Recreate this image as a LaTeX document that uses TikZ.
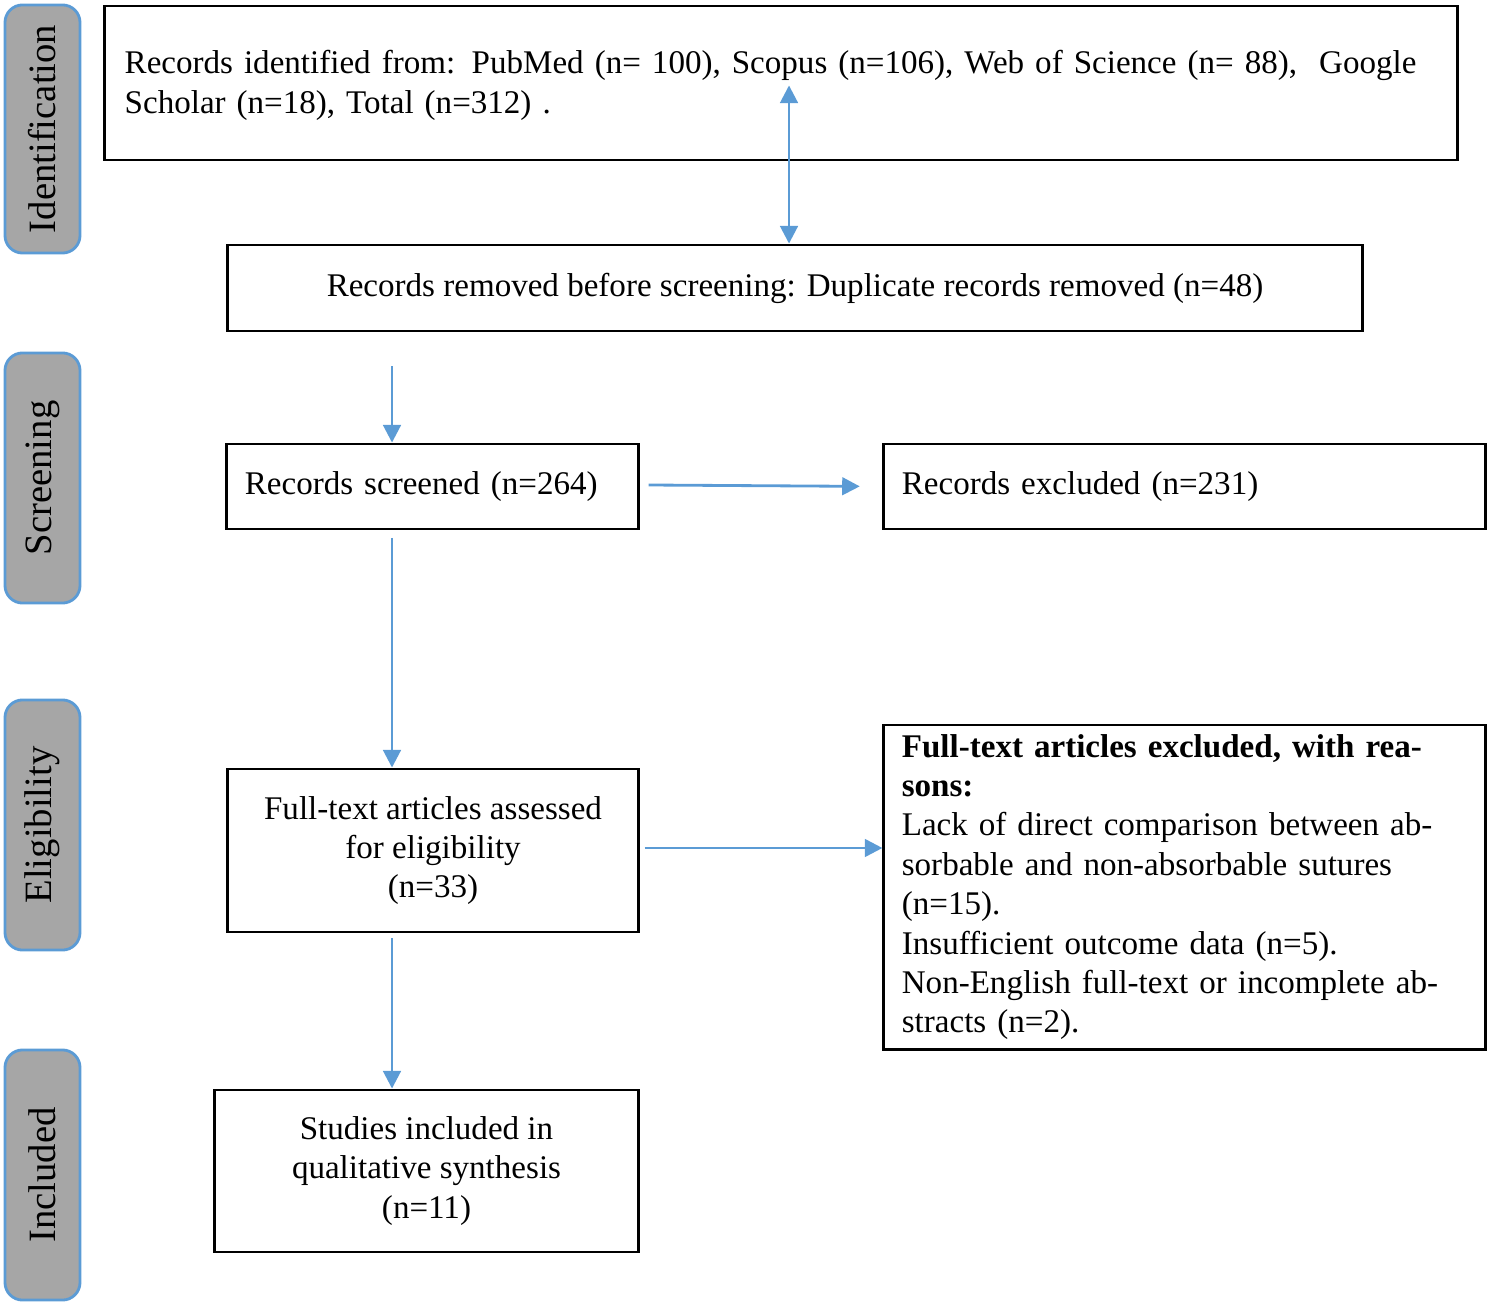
\documentclass[tikz,border=0pt]{standalone}
\usepackage{fontspec}
\setmainfont{Liberation Serif}
\usetikzlibrary{arrows.meta}
\definecolor{arrowblue}{RGB}{91,155,213}
\definecolor{tabgray}{RGB}{166,166,166}
\tikzset{
  box/.style={draw,thick,inner sep=0pt,font=\fontsize{9.4}{11.2}\selectfont},
  tab/.style={draw=arrowblue,thick,fill=tabgray,rounded corners=5pt,minimum width=0.75cm,
    inner sep=0pt,font=\fontsize{11}{13}\selectfont},
  flow/.style={-{Triangle[length=5pt,width=5pt]},arrowblue,thick},
}
\begin{document}
\begin{tikzpicture}[x=0.01cm,y=-0.01cm]
  \useasboundingbox (0,0) rectangle (1489,1304);
  % phase tabs
  \node[tab,minimum height=2.48cm] (tabid) at (42.5,129) {\rotatebox{90}{Identification}};
  \node[tab,minimum height=2.50cm] (tabsc) at (42.5,478) {\rotatebox{90}{Screening}};
  \node[tab,minimum height=2.50cm] (tabel) at (42.5,825) {\rotatebox{90}{Eligibility}};
  \node[tab,minimum height=2.50cm] (tabin) at (42.5,1175) {\rotatebox{90}{Included}};

  % boxes
  \node[box,minimum width=13.52cm,minimum height=1.54cm] (ident) at (781,83) {};
  \node[align=left,anchor=north west,inner sep=0pt,font=\fontsize{9.4}{11.2}\selectfont,text width=13.3cm] at (124,50)
    {Records identified from: PubMed (n= 100), Scopus (n=106), Web of Science (n= 88),~ Google Scholar (n=18), Total (n=312) .};
  \node[box,minimum width=11.34cm,minimum height=0.86cm] (removed) at (795,288)
    {Records removed before screening: Duplicate records removed (n=48)};
  \node[box,minimum width=4.11cm,minimum height=0.85cm,text width=3.75cm,align=left] (screened) at (432.5,486.5)
    {Records screened (n=264)};
  \node[box,minimum width=6.01cm,minimum height=0.85cm,text width=5.65cm,align=left] (excluded) at (1184.5,486.5)
    {Records excluded (n=231)};
  \node[box,minimum width=4.10cm,minimum height=1.63cm,align=center] (fulltext) at (433,850.5)
    {Full-text articles assessed\\for eligibility\\(n=33)};
  \node[box,minimum width=6.01cm,minimum height=3.24cm,text width=5.65cm,align=left] (reasons) at (1184.5,887)
    {\textbf{Full-text articles excluded, with reasons:}\\
     Lack of direct comparison between absorbable and non-absorbable sutures (n=15).\\
     Insufficient outcome data (n=5).\\
     Non-English full-text or incomplete abstracts (n=2).};
  \node[box,minimum width=4.23cm,minimum height=1.62cm,align=center] (included) at (426.5,1171)
    {Studies included in\\qualitative synthesis\\(n=11)};

  % connectors
  \draw[flow] (ident.south -| 789,0) -- ++(0,-76) coordinate (a1);
  \draw[flow] (789,160) -- (removed.north -| 789,0);
  \draw[flow,shorten <=10pt-0.1cm] (392,341) -- (screened.north -| 392,0) ;
  \draw[flow,shorten >=9pt-0.09cm] (screened.east) ++(9,-1.5) -- (excluded.west);
  \draw[flow] (392,538) -- (fulltext.north -| 392,0);
  \draw[flow] (fulltext.east) ++(5,-2.5) -- (reasons.west |- 0,848);
  \draw[flow] (392,938) -- (included.north -| 392,0);
\end{tikzpicture}
\end{document}
